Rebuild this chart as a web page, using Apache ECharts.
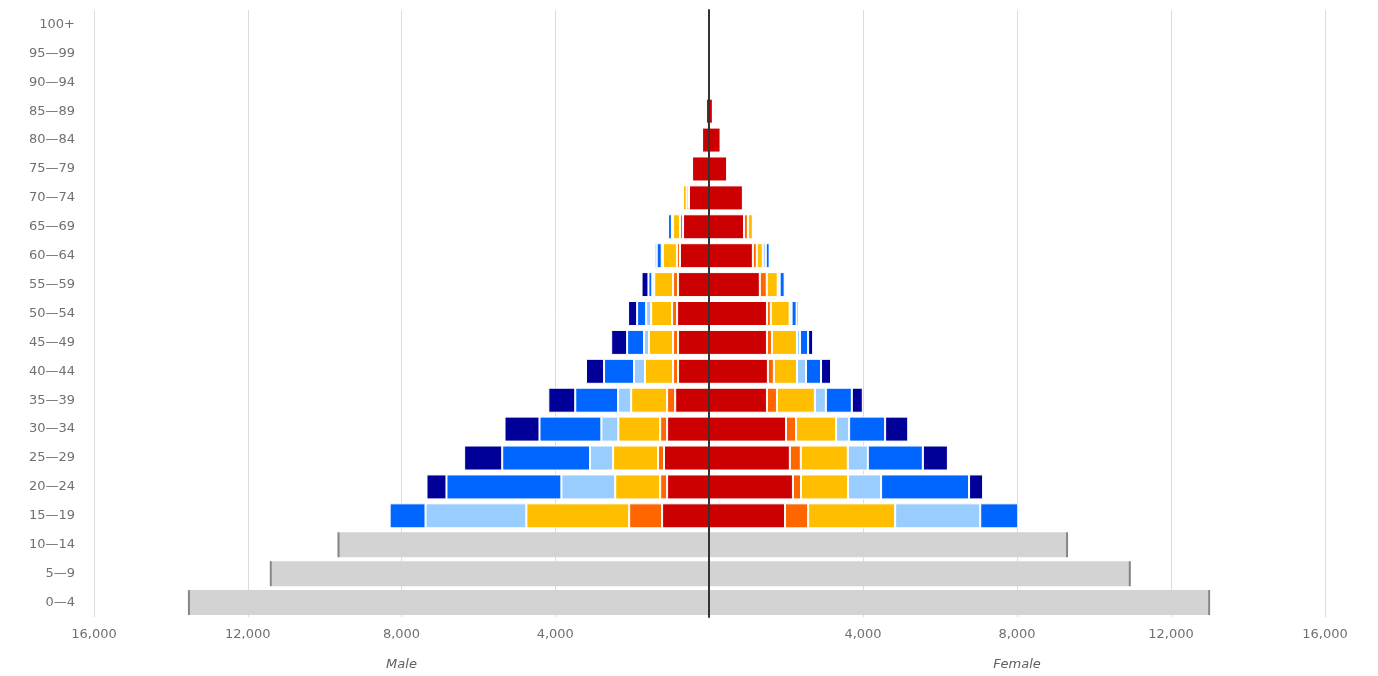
<!DOCTYPE html>
<html>
<head>
<meta charset="utf-8">
<script src="https://cdn.jsdelivr.net/npm/echarts@6/dist/echarts.min.js"></script>
<style>
html,body{margin:0;padding:0;background:#fff;}
#chart{width:1378px;height:676px;}
</style>
</head>
<body>
<div id="chart"></div>
<script>
// Age groups, bottom to top
const ageGroups = ['0\u20144','5\u20149','10\u201414','15\u201419','20\u201424','25\u201429','30\u201434','35\u201439','40\u201444','45\u201449','50\u201454','55\u201459','60\u201464','65\u201469','70\u201474','75\u201479','80\u201484','85\u201489','90\u201494','95\u201499','100+'];
const xTicks = [0, 4000, 8000, 12000, 16000];

// Male values (per age group, bottom to top)
const maleGray   = [13530, 11400, 9640, 0,0,0,0,0,0,0,0,0,0,0,0,0,0,0,0,0,0];
const maleRed    = [0,0,0, 1220, 1090, 1170, 1090, 880, 805, 805, 830, 805, 755, 675, 520, 440, 180, 80, 25, 8, 2];
const maleOrange = [0,0,0, 857, 180, 155, 180, 210, 130, 130, 130, 130, 80, 80, 60, 20, 0, 0, 0, 0, 0];
const maleYellow = [0,0,0, 2675, 1170, 1170, 1090, 935, 730, 625, 545, 490, 365, 180, 100, 0, 0, 0, 0, 0, 0];
const maleLight  = [0,0,0, 2623, 1400, 600, 440, 340, 285, 130, 130, 50, 30, 30, 0, 0, 0, 0, 0, 0, 0];
const maleBlue   = [0,0,0, 935, 2990, 2285, 1610, 1115, 780, 440, 235, 100, 130, 100, 30, 0, 0, 0, 0, 0, 0];
const maleNavy   = [0,0,0, 0, 520, 990, 910, 700, 470, 415, 235, 180, 50, 30, 20, 0, 0, 0, 0, 0, 0];

// Female values
const femGray   = [12990, 10930, 9300, 0,0,0,0,0,0,0,0,0,0,0,0,0,0,0,0,0,0];
const femRed    = [0,0,0, 1975, 2180, 2100, 2000, 1505, 1530, 1505, 1505, 1320, 1140, 910, 880, 470, 300, 100, 35, 8, 2];
const femOrange = [0,0,0, 600, 210, 285, 260, 260, 155, 130, 100, 180, 100, 100, 30, 20, 0, 0, 0, 0, 0];
const femYellow = [0,0,0, 2260, 1220, 1220, 1040, 985, 600, 650, 490, 285, 155, 130, 30, 0, 0, 0, 0, 0, 0];
const femLight  = [0,0,0, 2210, 860, 520, 340, 285, 235, 80, 50, 50, 80, 30, 0, 0, 0, 0, 0, 0, 0];
const femBlue   = [0,0,0, 990, 2285, 1430, 935, 675, 390, 210, 130, 130, 100, 50, 0, 0, 0, 0, 0, 0, 0];
const femNavy   = [0,0,0, 0, 365, 650, 600, 285, 260, 130, 50, 30, 30, 30, 0, 0, 0, 0, 0, 0, 0];

const colors = {gray:'#d3d3d3', red:'#cc0000', orange:'#ff6600', yellow:'#ffbf00', light:'#99ccff', blue:'#0066ff', navy:'#000099'};
const FONT = 'DejaVu Sans';

function stackSeries(idx, name, arr, color, stack){
  return {
    name: name, type:'bar', stack: stack, xAxisIndex: idx, yAxisIndex: idx,
    data: arr, barWidth: 25,
    itemStyle:{color: color, borderColor:'#fff', borderWidth: (color===colors.gray?0:1)},
    emphasis:{disabled:true}, silent:true, animation:false
  };
}
function endMarks(idx, arr){
  const pts = [];
  arr.forEach((v,i)=>{ if(v>0) pts.push([v,i]); });
  return {type:'scatter', xAxisIndex: idx, yAxisIndex: idx, data: pts, symbol:'rect', symbolSize:[2,25],
    itemStyle:{color:'#666'}, z:5, silent:true, animation:false};
}
function xAxisCfg(idx, inverse, name){
  return {
    type:'value', gridIndex: idx, inverse: inverse, min: xTicks[0], max: xTicks[xTicks.length-1], interval: xTicks[1]-xTicks[0],
    axisLine:{show:false}, axisTick:{show:false},
    splitLine:{show:true, lineStyle:{color:'#dcdcdc', width:1}},
    axisLabel:{color:'#707070', fontFamily: FONT, fontSize:13, margin:11,
      formatter: v => v===0 ? '' : v.toLocaleString('en-US')},
    name: name, nameLocation:'middle', nameGap: 41,
    nameTextStyle:{color:'#606060', fontFamily: FONT, fontSize:13, fontStyle:'italic'}
  };
}

const option = {
  backgroundColor:'#fff',
  animation:false,
  grid:[
    {left:94, right:669, top:10, bottom:56},
    {left:709, right:53, top:10, bottom:56}
  ],
  xAxis:[ xAxisCfg(0, true, 'Male'), xAxisCfg(1, false, 'Female') ],
  yAxis:[
    {type:'category', gridIndex:0, data: ageGroups, position:'left',
      axisLine:{show:false}, axisTick:{show:false},
      axisLabel:{color:'#707070', fontFamily: FONT, fontSize:13, margin:19}},
    {type:'category', gridIndex:1, data: ageGroups, position:'left', z:10,
      axisLine:{show:true, lineStyle:{color:'#333', width:2}}, axisTick:{show:false},
      axisLabel:{show:false}}
  ],
  series:[
    stackSeries(0,'m0',maleGray,colors.gray,'m'),
    stackSeries(0,'m1',maleRed,colors.red,'m'),
    stackSeries(0,'m2',maleOrange,colors.orange,'m'),
    stackSeries(0,'m3',maleYellow,colors.yellow,'m'),
    stackSeries(0,'m4',maleLight,colors.light,'m'),
    stackSeries(0,'m5',maleBlue,colors.blue,'m'),
    stackSeries(0,'m6',maleNavy,colors.navy,'m'),
    stackSeries(1,'f0',femGray,colors.gray,'f'),
    stackSeries(1,'f1',femRed,colors.red,'f'),
    stackSeries(1,'f2',femOrange,colors.orange,'f'),
    stackSeries(1,'f3',femYellow,colors.yellow,'f'),
    stackSeries(1,'f4',femLight,colors.light,'f'),
    stackSeries(1,'f5',femBlue,colors.blue,'f'),
    stackSeries(1,'f6',femNavy,colors.navy,'f'),
    endMarks(0, maleGray),
    endMarks(1, femGray)
  ]
};
const chart = echarts.init(document.getElementById('chart'), null, {renderer:'canvas'});
chart.setOption(option);
</script>
</body>
</html>
